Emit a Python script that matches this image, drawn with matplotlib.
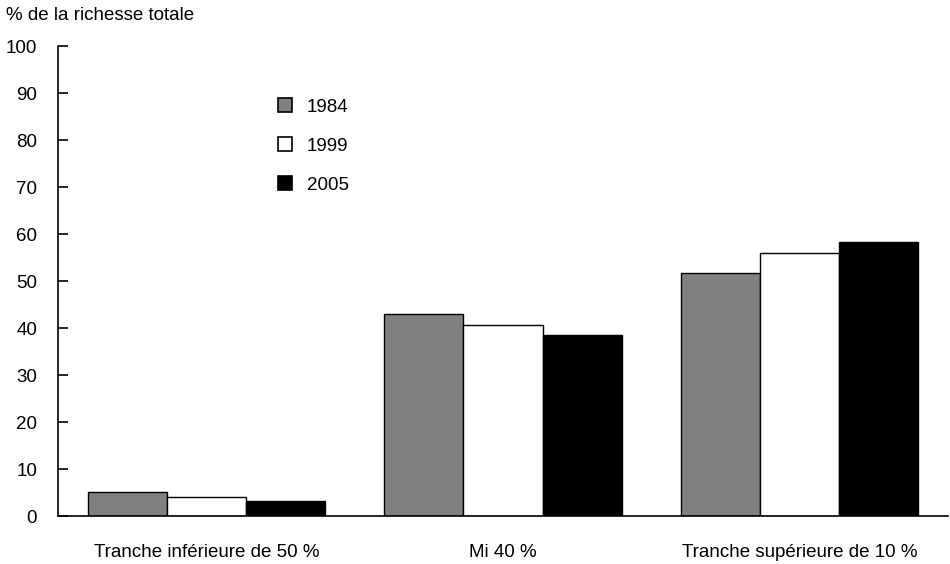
import numpy as np
import matplotlib
matplotlib.use("Agg")
from matplotlib import pyplot as plt
from matplotlib.patches import Patch

plt.rcParams['font.family'] = ['Liberation Sans', 'DejaVu Sans']

categories = ["Tranche inférieure de 50 %", "Mi 40 %", "Tranche supérieure de 10 %"]
years = ["1984", "1999", "2005"]
v1984 = [5.2, 43.0, 51.8]
v1999 = [4.0, 40.6, 55.9]
v2005 = [3.2, 38.5, 58.3]
colors = ["#808080", "#ffffff", "#000000"]

fig = plt.figure(figsize=(9.5, 5.64), dpi=100)
ax = fig.add_axes([0.061, 0.085, 0.937, 0.833])

x = np.arange(len(categories))
width = 0.8 / 3
for i, (vals, c) in enumerate(zip([v1984, v1999, v2005], colors)):
    ax.bar(x + (i - 1) * width, vals, width, color=c, edgecolor="black",
           linewidth=1.0, label=years[i])

ax.set_xlim(-0.5, 2.5)
ax.set_ylim(0, 100)
ax.set_yticks(range(0, 101, 10))
ax.set_xticks(x)
ax.set_xticklabels(categories, fontsize=13.5)
ax.tick_params(axis="x", length=0, pad=20)
ax.tick_params(axis="y", direction="in", length=7, width=1.2, labelsize=13.5, pad=15)
ax.spines["top"].set_visible(False)
ax.spines["right"].set_visible(False)
ax.spines["left"].set_linewidth(1.2)
ax.spines["bottom"].set_linewidth(1.2)

fig.text(0.006, 0.973, "% de la richesse totale", fontsize=13.5, va="center")

handles = [Patch(facecolor=c, edgecolor="black", linewidth=1.2) for c in colors]
ax.legend(handles, years, loc="upper left", bbox_to_anchor=(0.228, 0.925),
          frameon=False, fontsize=13.5, handlelength=0.75, handleheight=0.75,
          handletextpad=0.8, labelspacing=1.15)

plt.savefig("out.png", dpi=100)
